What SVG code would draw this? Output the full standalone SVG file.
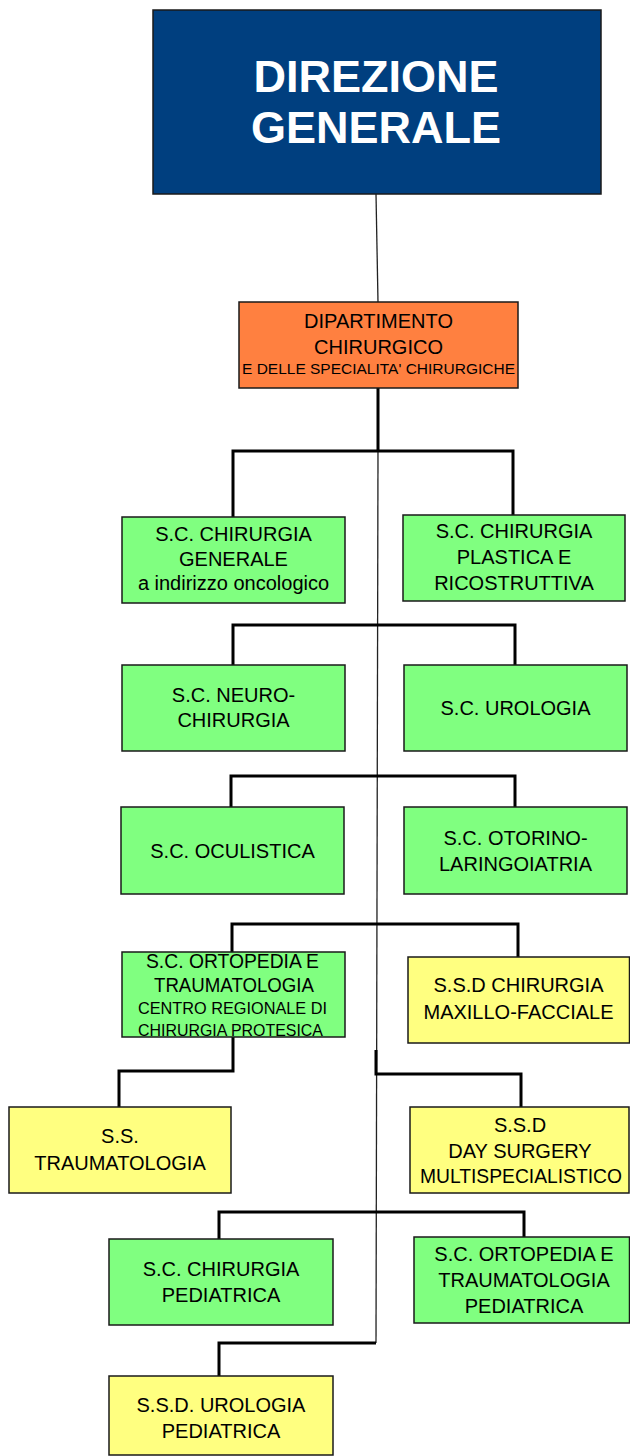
<svg xmlns="http://www.w3.org/2000/svg" width="630" height="1456" viewBox="0 0 630 1456">
<style>
text{font-family:"Liberation Sans",Arial,sans-serif;fill:#000;text-anchor:middle;font-size:20px}
.box{stroke:#1a1a1a;stroke-width:1.5}
.g{fill:#80FF80}
.y{fill:#FFFF80}
.thick{fill:none;stroke:#000;stroke-width:3;stroke-linejoin:miter}
.thin{fill:none;stroke:#222;stroke-width:1.3}
.title{font-weight:bold;font-size:45px;fill:#fff}
</style>
<rect width="630" height="1456" fill="#fff"/>
<g id="connectors">
<line class="thin" x1="376" y1="194" x2="378" y2="302"/>
<line class="thin" x1="378" y1="451" x2="376" y2="1343"/>
<path class="thick" d="M378,388 V451 M233,517 V451 H513 V515"/>
<path class="thick" d="M233,665 V625 H515 V665"/>
<path class="thick" d="M231,807 V776 H515 V807"/>
<path class="thick" d="M232,952 V924 H518 V957"/>
<path class="thick" d="M233,1037 V1071 H119 V1107"/>
<path class="thick" d="M376,1050 V1074 H521 V1107"/>
<path class="thick" d="M219,1239 V1212 H524 V1237"/>
<path class="thick" d="M376,1343 H219 V1376"/>
</g>
<g id="direzione">
<rect class="box" x="153" y="10" width="448" height="184" fill="#003F7F"/>
<text class="title" x="376" y="92">DIREZIONE</text>
<text class="title" x="376" y="143">GENERALE</text>
</g>
<g id="dipartimento">
<rect class="box" x="239" y="302" width="279" height="86" fill="#FF8040"/>
<text x="378.5" y="328">DIPARTIMENTO</text>
<text x="378.5" y="354">CHIRURGICO</text>
<text x="378.5" y="374" style="font-size:15px" textLength="273" lengthAdjust="spacingAndGlyphs">E DELLE SPECIALITA' CHIRURGICHE</text>
</g>
<g id="chir-generale">
<rect class="box g" x="122" y="517" width="223" height="86"/>
<text x="233.5" y="541">S.C. CHIRURGIA</text>
<text x="233.5" y="566">GENERALE</text>
<text x="233.5" y="590">a indirizzo oncologico</text>
</g>
<g id="chir-plastica">
<rect class="box g" x="403" y="515" width="222" height="86"/>
<text x="514" y="538">S.C. CHIRURGIA</text>
<text x="514" y="564">PLASTICA E</text>
<text x="514" y="590">RICOSTRUTTIVA</text>
</g>
<g id="neurochirurgia">
<rect class="box g" x="122" y="665" width="223" height="86"/>
<text x="233.5" y="702">S.C. NEURO-</text>
<text x="233.5" y="727">CHIRURGIA</text>
</g>
<g id="urologia">
<rect class="box g" x="404" y="665" width="223" height="86"/>
<text x="515.5" y="715">S.C. UROLOGIA</text>
</g>
<g id="oculistica">
<rect class="box g" x="121" y="807" width="223" height="87"/>
<text x="232.5" y="858">S.C. OCULISTICA</text>
</g>
<g id="otorino">
<rect class="box g" x="404" y="807" width="223" height="87"/>
<text x="515.5" y="845">S.C. OTORINO-</text>
<text x="515.5" y="871">LARINGOIATRIA</text>
</g>
<g id="ortopedia">
<rect class="box g" x="122" y="952" width="223" height="85"/>
<text x="232.5" y="967.5" textLength="173" lengthAdjust="spacingAndGlyphs">S.C. ORTOPEDIA E</text>
<text x="234" y="991.5" textLength="160" lengthAdjust="spacingAndGlyphs">TRAUMATOLOGIA</text>
<text x="232.5" y="1014" style="font-size:17px" textLength="189" lengthAdjust="spacingAndGlyphs">CENTRO REGIONALE DI</text>
<text x="230.5" y="1035.5" style="font-size:17px" textLength="185" lengthAdjust="spacingAndGlyphs">CHIRURGIA  PROTESICA</text>
</g>
<g id="maxillo">
<rect class="box y" x="408" y="957" width="221.5" height="86"/>
<text x="518.5" y="992">S.S.D CHIRURGIA</text>
<text x="518.5" y="1019">MAXILLO-FACCIALE</text>
</g>
<g id="traumatologia">
<rect class="box y" x="9" y="1107" width="222" height="86"/>
<text x="120" y="1143">S.S.</text>
<text x="120" y="1170">TRAUMATOLOGIA</text>
</g>
<g id="day-surgery">
<rect class="box y" x="410" y="1107" width="219" height="86"/>
<text x="520" y="1132">S.S.D</text>
<text x="520" y="1158">DAY SURGERY</text>
<text x="521" y="1183" textLength="202" lengthAdjust="spacingAndGlyphs">MULTISPECIALISTICO</text>
</g>
<g id="chir-pediatrica">
<rect class="box g" x="109" y="1239" width="224" height="86"/>
<text x="221" y="1276">S.C. CHIRURGIA</text>
<text x="221" y="1302">PEDIATRICA</text>
</g>
<g id="ortopedia-pediatrica">
<rect class="box g" x="414" y="1237" width="215.5" height="86"/>
<text x="524" y="1261">S.C. ORTOPEDIA E</text>
<text x="524" y="1287">TRAUMATOLOGIA</text>
<text x="524" y="1313">PEDIATRICA</text>
</g>
<g id="urologia-pediatrica">
<rect class="box y" x="109" y="1376" width="224" height="79"/>
<text x="221" y="1412">S.S.D. UROLOGIA</text>
<text x="221" y="1438">PEDIATRICA</text>
</g>
</svg>
